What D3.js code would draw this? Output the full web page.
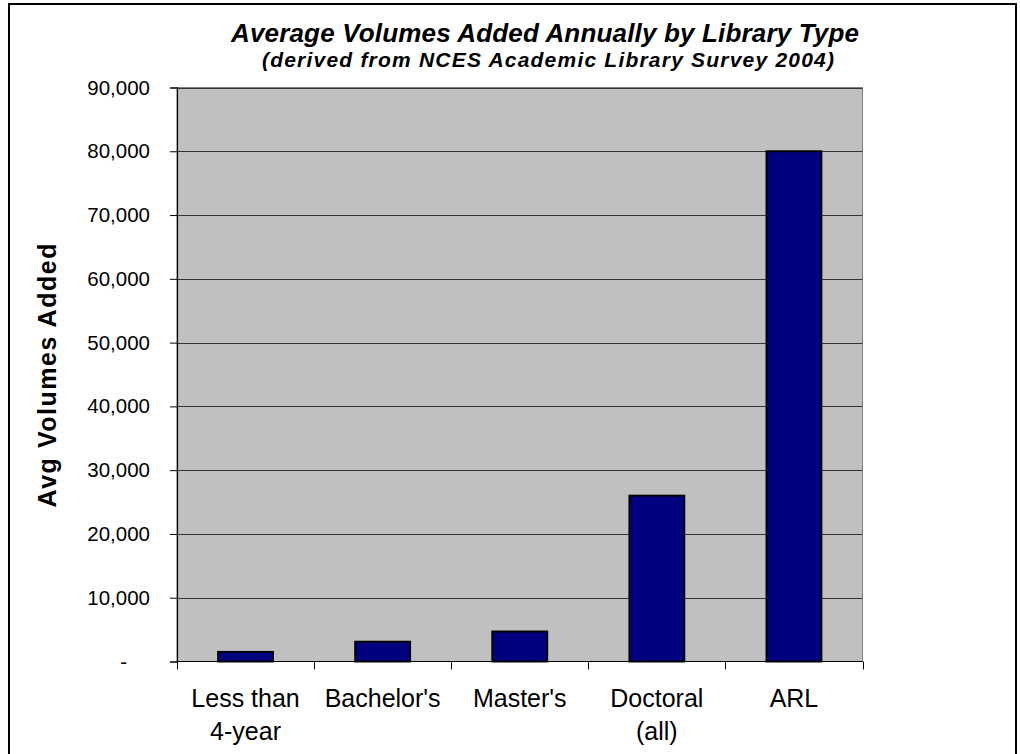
<!DOCTYPE html>
<html>
<head>
<meta charset="utf-8">
<script src="https://cdn.jsdelivr.net/npm/d3@7"></script>
<style>
  html, body { margin: 0; padding: 0; background: #fff; }
  svg { display: block; font-family: Arial, "Liberation Sans", sans-serif; }
</style>
</head>
<body>
<svg id="chart" width="1020" height="754"></svg>
<script>
// Library types and their average volumes added per year
const categories = [["Less than", "4-year"], ["Bachelor's"], ["Master's"], ["Doctoral", "(all)"], ["ARL"]];
const volumesAdded = [1500, 3100, 4700, 26000, 80000];
const yTickValues = [0, 10000, 20000, 30000, 40000, 50000, 60000, 70000, 80000, 90000];

const titleText = "Average Volumes Added Annually by Library Type";
const subtitleText = "(derived from NCES Academic Library Survey 2004)";
const yAxisTitle = "Avg Volumes Added";

const svg = d3.select("#chart");
const plot = { left: 177, right: 862.5, top: 87.5, bottom: 661.5 };

// Outer chart frame
svg.append("rect")
  .attr("x", 9).attr("y", 4).attr("width", 1007).attr("height", 760)
  .attr("fill", "#fff").attr("stroke", "#000").attr("stroke-width", 2);

const keys = categories.map((c, i) => i);
const x = d3.scaleBand().domain(keys).range([plot.left, plot.right]).paddingInner(0.6).paddingOuter(0.3);
const xBand = d3.scaleBand().domain(keys).range([plot.left, plot.right]);
const y = d3.scaleLinear().domain([0, 90000]).range([plot.bottom, plot.top]);

// Plot background
svg.append("rect")
  .attr("x", plot.left).attr("y", plot.top)
  .attr("width", plot.right - plot.left).attr("height", plot.bottom - plot.top)
  .attr("fill", "#c0c0c0").attr("stroke", "#808080").attr("stroke-width", 1);

// Horizontal gridlines
svg.append("g")
  .selectAll("line")
  .data(yTickValues.filter(v => v > 0))
  .join("line")
  .attr("x1", plot.left).attr("x2", plot.right)
  .attr("y1", d => Math.round(y(d)) + 0.5).attr("y2", d => Math.round(y(d)) + 0.5)
  .attr("stroke", "#333").attr("stroke-width", 1);

// Bars
svg.append("g")
  .selectAll("rect")
  .data(volumesAdded)
  .join("rect")
  .attr("x", (d, i) => x(i))
  .attr("width", x.bandwidth())
  .attr("y", d => y(d))
  .attr("height", d => plot.bottom - y(d))
  .attr("fill", "#000080")
  .attr("stroke", "#000")
  .attr("stroke-width", 2);

// Y axis
const yAxis = d3.axisLeft(y)
  .tickValues(yTickValues)
  .tickSize(7)
  .tickPadding(20)
  .tickFormat(d => d === 0 ? "-" : d3.format(",")(d));
const gy = svg.append("g").attr("transform", `translate(${plot.left},0)`).call(yAxis);
gy.select(".domain").attr("stroke", "#000").attr("stroke-width", 1.2);
gy.selectAll(".tick line").attr("stroke", "#000");
gy.selectAll(".tick text")
  .attr("font-size", 20.5).attr("font-family", "Arial, 'Liberation Sans', sans-serif")
  .attr("fill", "#000")
  .attr("dx", d => d === 0 ? -23 : 0);

// X axis with ticks at category boundaries
const xAxisG = svg.append("g");
xAxisG.append("line")
  .attr("x1", plot.left).attr("x2", plot.right)
  .attr("y1", plot.bottom).attr("y2", plot.bottom)
  .attr("stroke", "#000").attr("stroke-width", 1.2);
const boundaries = keys.map(i => xBand(i)).concat([plot.right]);
xAxisG.selectAll("line.tick")
  .data(boundaries)
  .join("line")
  .attr("class", "tick")
  .attr("x1", d => Math.round(d) + 0.5).attr("x2", d => Math.round(d) + 0.5)
  .attr("y1", plot.bottom).attr("y2", plot.bottom + 8)
  .attr("stroke", "#000");

// Category labels
const labels = xAxisG.selectAll("text.cat")
  .data(categories)
  .join("text")
  .attr("class", "cat")
  .attr("text-anchor", "middle")
  .attr("font-size", 25)
  .attr("fill", "#000");
labels.selectAll("tspan")
  .data((d, i) => d.map(line => ({ line, i })))
  .join("tspan")
  .attr("x", d => xBand(d.i) + xBand.bandwidth() / 2)
  .attr("y", (d, j) => 707 + j * 33)
  .text(d => d.line);

// Titles
svg.append("text")
  .attr("x", 231).attr("y", 42)
  .attr("font-size", 26).attr("font-weight", "bold").attr("font-style", "italic")
  .attr("textLength", 628).attr("lengthAdjust", "spacing")
  .text(titleText);
svg.append("text")
  .attr("x", 262).attr("y", 67)
  .attr("font-size", 21).attr("font-weight", "bold").attr("font-style", "italic")
  .attr("textLength", 572).attr("lengthAdjust", "spacing")
  .text(subtitleText);

// Y axis title
svg.append("text")
  .attr("transform", `translate(56,${(plot.top + plot.bottom) / 2 + 1}) rotate(-90)`)
  .attr("text-anchor", "middle")
  .attr("font-size", 25).attr("font-weight", "bold")
  .attr("textLength", 264).attr("lengthAdjust", "spacing")
  .text(yAxisTitle);
</script>
</body>
</html>
